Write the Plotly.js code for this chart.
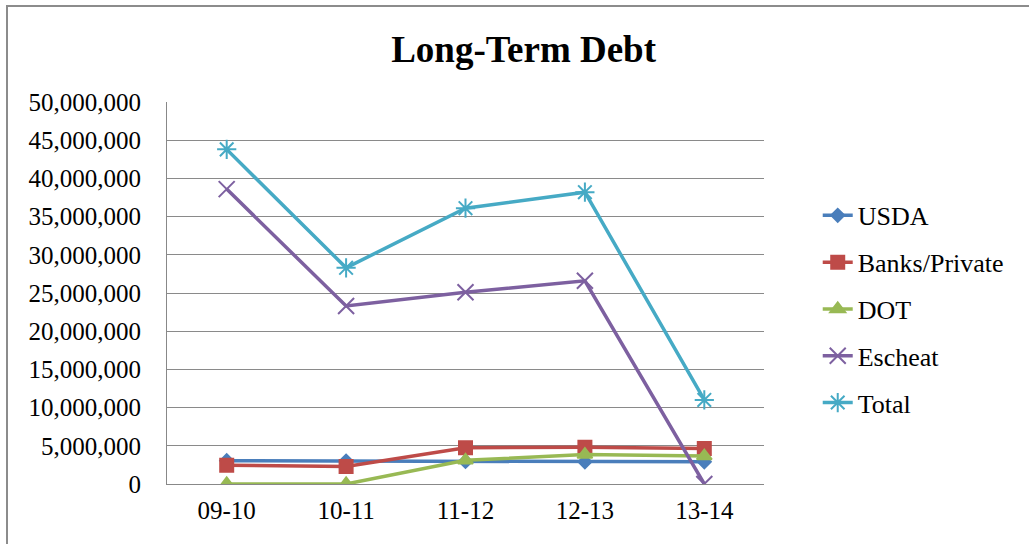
<!DOCTYPE html>
<html><head><meta charset="utf-8">
<script src="https://cdn.plot.ly/plotly-3.0.1.min.js"></script>
<style>
html,body{margin:0;padding:0;background:#fff;overflow:hidden;}
#wrap{position:absolute;left:6px;top:5px;width:1021px;height:537px;border-left:2px solid #8c8c8c;border-top:2px solid #8c8c8c;}
#chart{width:1021px;height:537px;}
</style>
</head><body>
<div id="wrap"><div id="chart"></div></div>
<script>
const categories = ["09-10","10-11","11-12","12-13","13-14"];
const usda = [3050000, 3000000, 2950000, 2900000, 2900000];
const banks = [2450000, 2300000, 4750000, 4800000, 4650000];
const dot = [0, 0, 3100000, 3850000, 3650000];
const escheat = [38600000, 23300000, 25100000, 26600000, 0];
const total = [43800000, 28300000, 36100000, 38200000, 11000000];

const seriesNames = ["USDA","Banks/Private","DOT","Escheat","Total"];
const seriesData = [usda, banks, dot, escheat, total];
const colors = ["#4a7ebb","#be4b48","#98b954","#7d60a0","#46aac5"];
const symbols = ["diamond","square","triangle-up","x-thin-open","asterisk-open"];
const sizes = [10, 13, 13, 16, 16];

const traces = seriesNames.map((n,i)=>({
  type:'scatter', mode:'lines+markers', name:n, x:categories, y:seriesData[i],
  legendgroup:'g'+i,
  line:{color:colors[i], width:3.5},
  marker:{symbol:symbols[i], size:sizes[i], color:colors[i], line:{color:colors[i], width:2}}
}));

const serif = '"Liberation Serif", "Times New Roman", serif';
const layout = {
  width:1021, height:537,
  margin:{l:159, r:265, t:95, b:60},
  paper_bgcolor:'#fff', plot_bgcolor:'#fff',
  font:{family:serif, color:'#000', size:25},
  title:{text:'<b>Long-Term Debt</b>', x:0.505, xref:'container', y:0.922, yref:'container', yanchor:'middle', xanchor:'center',
    font:{family:serif, size:37, color:'#000'}},
  xaxis:{type:'category', range:[-0.5,4.5], showgrid:false, showline:true, linecolor:'#888', linewidth:1,
    ticks:'', tickfont:{size:25}, zeroline:false, ticklabelstandoff:4},
  yaxis:{range:[0,50000000], dtick:5000000, tickformat:',d', showgrid:true, gridcolor:'#8a8a8a', gridwidth:1,
    showline:true, linecolor:'#888', linewidth:1, ticks:'', tickfont:{size:25}, zeroline:false, ticklabelstandoff:20},
  legend:{x:1.09, xanchor:'left', y:0.457, yanchor:'middle', tracegroupgap:10,
    font:{size:26}, bgcolor:'rgba(0,0,0,0)'},
  showlegend:true
};
Plotly.newPlot('chart', traces, layout, {displayModeBar:false, staticPlot:true});
</script>
</body></html>
